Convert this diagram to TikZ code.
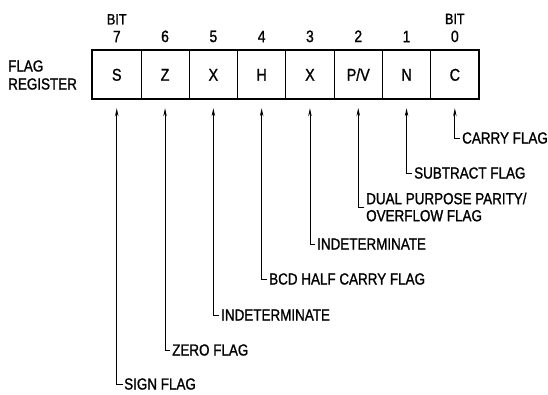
\documentclass[tikz,border=0pt]{standalone}
\usepackage{fontspec}
\setmainfont{Liberation Sans}[FakeStretch=0.84, UprightFeatures={FakeBold=1.2}]
\usetikzlibrary{matrix}
\usetikzlibrary{arrows.meta}

\tikzset{
  flagtext/.style={font=\fontsize{16}{17}\selectfont, inner sep=2pt, anchor=west, align=left},
  bittext/.style={font=\fontsize{16.5}{18}\selectfont, inner sep=0pt},
  flagarrow/.style={-{Stealth[length=8pt,width=3.5pt]}, line width=0.8pt},
}

\begin{document}
\begin{tikzpicture}[x=1pt, y=-1pt]
  \useasboundingbox (0,0) rectangle (548,394);
  \matrix [
    matrix of nodes, anchor=north west,
    column sep=-0.8pt, inner sep=0pt,
    nodes={draw, line width=0.8pt, minimum width=48.3pt, minimum height=48pt,
      inner sep=0pt, font=\fontsize{17}{18}\selectfont},
  ] (reg) at (92,50) {
    S & Z & X & H & X & P/V & N & C \\
  };
  \draw[line width=2pt] (reg-1-1.north west) rectangle (reg-1-8.south east);

  \foreach \c/\b in {1/7,2/6,3/5,4/4,5/3,6/2,7/1,8/0}
    \node[bittext, above=8pt] (bit\b) at (reg-1-\c.north) {\b};
  \node[bittext, above=6pt, font=\fontsize{15}{16}\selectfont] at (bit7.north) {BIT};
  \node[bittext, above=6pt, font=\fontsize{15}{16}\selectfont] at (bit0.north) {BIT};

  \node[flagtext, inner sep=0pt, font=\fontsize{16}{18}\selectfont] (freg) at (8,75) {FLAG\\REGISTER};

  \node[flagtext] (carry) at (460,138) {CARRY FLAG};
  \node[flagtext] (sub) at (412,173) {SUBTRACT FLAG};
  \node[flagtext] (pv) at (364,207) {DUAL PURPOSE PARITY/\\OVERFLOW FLAG};
  \node[flagtext] (ind3) at (315,244) {INDETERMINATE};
  \node[flagtext] (half) at (267,279) {BCD HALF CARRY FLAG};
  \node[flagtext] (ind5) at (219,315) {INDETERMINATE};
  \node[flagtext] (zero) at (170,350) {ZERO FLAG};
  \node[flagtext, inner sep=1pt] (sign) at (123,384) {SIGN FLAG};

  \foreach \l/\c in {carry/8, sub/7, pv/6, ind3/5, half/4, ind5/3, zero/2, sign/1}
    \draw[flagarrow] (\l.west) -| ([yshift=-9pt]reg-1-\c.south);
\end{tikzpicture}
\end{document}
